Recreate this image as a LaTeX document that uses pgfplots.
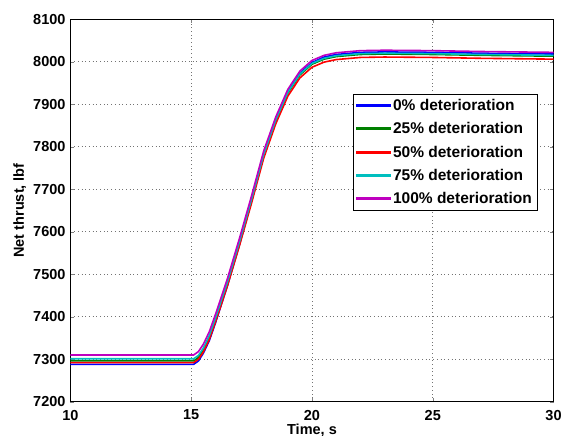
\documentclass[border=0pt]{standalone}
\usepackage{pgfplots}
\pgfplotsset{compat=1.18}
\usepackage{fontspec}
\setmainfont{Liberation Sans}

\definecolor{mblue}{rgb}{0,0,1}
\definecolor{mgreen}{rgb}{0,0.5,0}
\definecolor{mred}{rgb}{1,0,0}
\definecolor{mcyan}{rgb}{0,0.75,0.75}
\definecolor{mmag}{rgb}{0.75,0,0.75}

\begin{document}
\begin{tikzpicture}
% page frame: the axis box sits at (0,0)-(483pt,382.5pt)
\useasboundingbox (-70.5pt,-34.3pt) rectangle (491.5pt,401.7pt);
\begin{axis}[
  scale only axis,
  width=483pt, height=382.5pt,
  xmin=10, xmax=30, ymin=7200, ymax=8100,
  xtick={10,15,...,30},
  xticklabels={\textbf{10},\textbf{15},\textbf{20},\textbf{25},\textbf{30}},
  ytick={7200,7300,...,8100},
  yticklabels={\textbf{7200},\textbf{7300},\textbf{7400},\textbf{7500},\textbf{7600},
    \textbf{7700},\textbf{7800},\textbf{7900},\textbf{8000},\textbf{8100}},
  tick align=inside,
  major tick length=4pt,
  grid=major,
  major grid style={black!55, line width=0.7pt, dash pattern=on 0.7pt off 3pt},
  axis line style={line width=0.8pt},
  tick label style={font=\fontsize{14.5}{16}\selectfont\bfseries, inner sep=0pt},
  xticklabel style={anchor=north, yshift=-8pt},
  yticklabel style={anchor=east, xshift=-4.8pt},
  label style={font=\fontsize{14.5}{16}\selectfont\bfseries, inner sep=0pt},
  xlabel={Time, s},
  ylabel={Net thrust, lbf},
  xlabel style={at={(axis description cs:0.5,0)}, anchor=north, yshift=-22pt},
  ylabel style={at={(axis description cs:-0.0963,0.5)}, anchor=base},
  legend style={at={(0.5855,0.804)}, anchor=north west,
    font=\fontsize{15.5}{17}\selectfont\bfseries,
    inner xsep=3pt, inner ysep=3pt, row sep=6.5pt},
  every legend/.append style={draw=black, line width=0.8pt},
  legend cell align=left,
  legend image code/.code={\fill[#1] (3pt,-0.7pt) rectangle (36pt,0.7pt);},
  every axis plot/.append style={line width=1.6pt},
]
\addplot[color=mblue] coordinates {
(10,7288) (15.1,7288) (15.3,7296) (15.5,7314) (15.75,7344) (16,7385) (16.5,7473)
(17,7570) (17.5,7673) (18,7780) (18.5,7862) (19,7929) (19.5,7973) (20,7998)
(20.5,8011) (21,8017) (22,8022) (23,8023) (25,8022) (27,8020) (30,8018)
};
\addlegendentry{0\% deterioration}
\addplot[color=mgreen] coordinates {
(10,7296) (15.1,7296) (15.3,7304) (15.5,7321) (15.75,7351) (16,7391) (16.5,7477)
(17,7573) (17.5,7674) (18,7779) (18.5,7860) (19,7926) (19.5,7969) (20,7994)
(20.5,8006) (21,8012) (22,8017) (23,8018) (25,8017) (27,8015) (30,8013)
};
\addlegendentry{25\% deterioration}
\addplot[color=mred] coordinates {
(10,7292) (15.1,7292) (15.3,7300) (15.5,7317) (15.75,7347) (16,7387) (16.5,7473)
(17,7568) (17.5,7668) (18,7773) (18.5,7854) (19,7919) (19.5,7962) (20,7987)
(20.5,7999) (21,8005) (22,8010) (23,8011) (25,8010) (27,8008) (30,8006)
};
\addlegendentry{50\% deterioration}
\addplot[color=mcyan] coordinates {
(10,7301) (15.1,7301) (15.3,7309) (15.5,7326) (15.75,7356) (16,7396) (16.5,7482)
(17,7577) (17.5,7677) (18,7782) (18.5,7863) (19,7928) (19.5,7971) (20,7996)
(20.5,8008) (21,8014) (22,8019) (23,8020) (25,8019) (27,8017) (30,8015)
};
\addlegendentry{75\% deterioration}
\addplot[color=mmag] coordinates {
(10,7310) (15.1,7310) (15.3,7318) (15.5,7335) (15.75,7365) (16,7405) (16.5,7490)
(17,7585) (17.5,7685) (18,7790) (18.5,7870) (19,7935) (19.5,7978) (20,8003)
(20.5,8015) (21,8021) (22,8026) (23,8027) (25,8026) (27,8024) (30,8022)
};
\addlegendentry{100\% deterioration}
\end{axis}
\end{tikzpicture}
\end{document}
